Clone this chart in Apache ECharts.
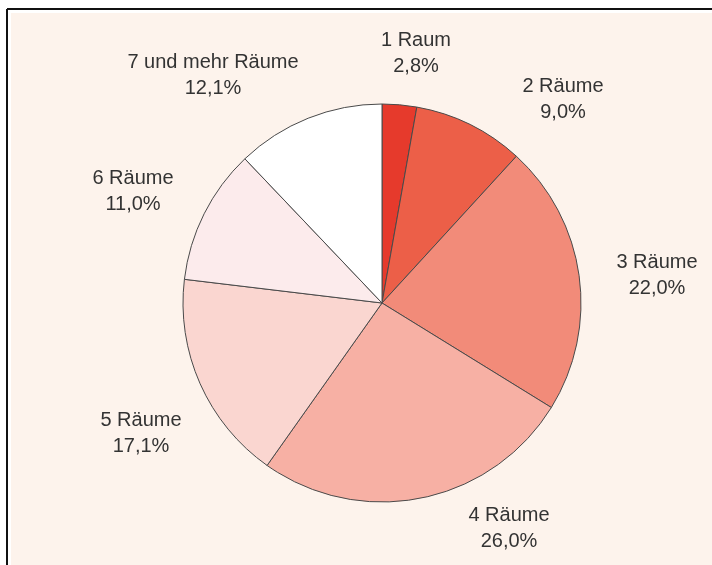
<!DOCTYPE html>
<html>
<head>
<meta charset="utf-8">
<script src="https://cdn.jsdelivr.net/npm/echarts@6/dist/echarts.min.js"></script>
<style>
html,body{margin:0;padding:0;background:#fff;}
#c{width:712px;height:565px;}
</style>
</head>
<body>
<div id="c"></div>
<script>
const categories = ['1 Raum','2 Räume','3 Räume','4 Räume','5 Räume','6 Räume','7 und mehr Räume'];
const values = [2.8, 9.0, 22.0, 26.0, 17.1, 11.0, 12.1];
const colors = ['#e63a2c','#ec5f48','#f28b79','#f7b0a4','#fad6d0','#fcebec','#ffffff'];
// label placement (pixel centres of the two-line label blocks)
const labelPos = [[416,53],[563,99],[657,275],[509,528],[141,433],[133,191],[213,75]];

const chart = echarts.init(document.getElementById('c'));
chart.setOption({
  backgroundColor: '#ffffff',
  animation: false,
  graphic: [
    {type:'rect', shape:{x:11,y:13,width:701,height:552}, style:{fill:'#fdf3ec'}, z:-10},
    {type:'line', shape:{x1:7,y1:9,x2:712,y2:9}, style:{stroke:'#111',lineWidth:2}, z:-9},
    {type:'line', shape:{x1:7,y1:9,x2:7,y2:565}, style:{stroke:'#111',lineWidth:2}, z:-9}
  ],
  series: [{
    type: 'pie',
    center: [382, 303],
    radius: 199,
    startAngle: 90,
    clockwise: true,
    avoidLabelOverlap: false,
    itemStyle: {borderColor:'#4a4a4a', borderWidth:1},
    label: {
      show: true,
      position: 'outside',
      color: '#333',
      fontFamily: 'Liberation Sans, Arial, sans-serif',
      fontSize: 20,
      lineHeight: 26,
      align: 'center',
      formatter: p => p.name + '\n' + p.value.toFixed(1).replace('.', ',') + '%'
    },
    labelLine: {show: false},
    labelLayout: function (params) {
      const pos = labelPos[params.dataIndex];
      return {x: pos[0], y: pos[1], align: 'center', verticalAlign: 'middle'};
    },
    emphasis: {disabled: true},
    data: categories.map((n, i) => ({name: n, value: values[i], itemStyle: {color: colors[i]}}))
  }]
});
</script>
</body>
</html>
